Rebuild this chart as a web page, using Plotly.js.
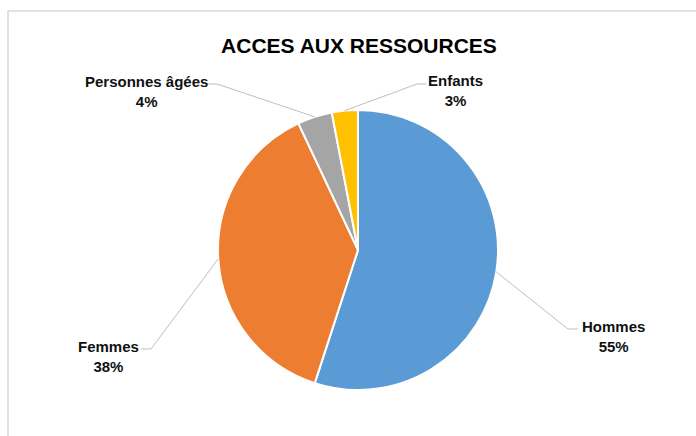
<!DOCTYPE html>
<html>
<head>
<meta charset="utf-8">
<script src="https://cdn.plot.ly/plotly-3.0.1.min.js"></script>
<style>html,body{margin:0;padding:0;background:#fff;}#chart{width:696px;height:436px;}</style>
</head>
<body>
<div id="chart"></div>
<script>
const categories = ["Hommes", "Femmes", "Personnes âgées", "Enfants"];
const values = [55, 38, 4, 3];
const colors = ["#5B9BD5", "#ED7D31", "#A5A5A5", "#FFC000"];
const titleText = "ACCES AUX RESSOURCES";

const W = 696, H = 436;
const cx = 358, cy = 250, R = 140;
// label anchor (px): centre of the two-line label, and the elbow of the leader line
const labelPos = [
  {x: 613, y: 336, ex: 568, ey: 329, hx: 578},
  {x: 108, y: 356, ex: 151, ey: 349, hx: 141},
  {x: 146, y: 91,  ex: 217, ey: 84,  hx: 208},
  {x: 455, y: 90,  ex: 417, ey: 84,  hx: 426}
];

const px = x => x / W;
const py = y => 1 - y / H;

const total = values.reduce((a, b) => a + b, 0);
let cum = 0;
const shapes = [{
  type: 'rect', xref: 'paper', yref: 'paper',
  x0: px(8), x1: px(720), y0: py(11), y1: py(460),
  line: {color: '#D9D9D9', width: 1.5}, fillcolor: 'rgba(0,0,0,0)'
}];
const annotations = [];
values.forEach((v, i) => {
  const mid = (cum + v / 2) / total;
  cum += v;
  const ang = mid * 2 * Math.PI;
  const sx = cx + R * Math.sin(ang);
  const sy = cy - R * Math.cos(ang);
  const L = labelPos[i];
  shapes.push({
    type: 'path', xref: 'paper', yref: 'paper',
    path: `M ${px(sx)} ${py(sy)} L ${px(L.ex)} ${py(L.ey)} L ${px(L.hx)} ${py(L.ey)}`,
    line: {color: '#BFBFBF', width: 1}
  });
  const pct = Math.round(v / total * 100) + '%';
  annotations.push({
    xref: 'paper', yref: 'paper', x: px(L.x), y: py(L.y),
    xanchor: 'center', yanchor: 'middle', showarrow: false,
    text: categories[i] + '<br>' + pct, align: 'center',
    font: {family: 'Liberation Sans, Arial, sans-serif', size: 15, color: '#111', weight: 'bold'}
  });
});

const data = [{
  type: 'pie',
  labels: categories,
  values: values,
  sort: false,
  direction: 'clockwise',
  rotation: 0,
  textinfo: 'none',
  hoverinfo: 'none',
  marker: {colors: colors, line: {color: '#FFFFFF', width: 2}},
  domain: {x: [px(cx - R), px(cx + R)], y: [py(cy + R), py(cy - R)]},
  showlegend: false
}];

const layout = {
  width: W, height: H,
  margin: {l: 0, r: 0, t: 0, b: 0},
  paper_bgcolor: '#fff',
  title: {
    text: titleText, x: px(359), xanchor: 'center', y: py(46), yanchor: 'middle',
    font: {family: 'Liberation Sans, Arial, sans-serif', size: 21, color: '#000', weight: 'bold'}
  },
  shapes: shapes,
  annotations: annotations,
  showlegend: false
};

Plotly.newPlot('chart', data, layout, {displayModeBar: false, staticPlot: true});
</script>
</body>
</html>
